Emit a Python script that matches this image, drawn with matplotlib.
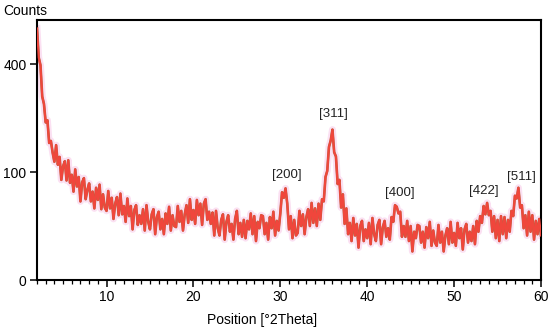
import numpy as np
import matplotlib
matplotlib.use("Agg")
import matplotlib.pyplot as plt
from matplotlib.ticker import MultipleLocator, FixedLocator

plt.rcParams['font.family'] = ['Liberation Sans', 'DejaVu Sans']
plt.rcParams['font.size'] = 10

# 2theta grid (deg) and counts
two_theta = np.round(np.arange(2.0, 60.01, 0.2), 1)
counts = [
    543, 424, 396, 289, 266, 213, 219, 161, 166, 139,
    120, 156, 114, 130, 86, 111, 121, 85, 123, 81,
    95, 67, 105, 75, 91, 53, 82, 89, 56, 70,
    80, 53, 67, 44, 73, 55, 78, 43, 63, 45,
    41, 68, 44, 58, 32, 50, 59, 36, 64, 37,
    47, 29, 57, 35, 47, 22, 42, 48, 26, 36,
    27, 43, 21, 48, 29, 22, 37, 43, 18, 34,
    40, 22, 32, 18, 38, 27, 46, 21, 36, 25,
    24, 47, 29, 41, 21, 37, 48, 28, 56, 31,
    42, 27, 55, 36, 50, 26, 50, 56, 31, 40,
    27, 39, 17, 41, 23, 17, 31, 37, 14, 29,
    36, 20, 27, 14, 32, 41, 18, 28, 16, 31,
    15, 30, 22, 38, 18, 35, 13, 29, 23, 36,
    35, 18, 28, 14, 34, 23, 40, 17, 30, 21,
    38, 66, 58, 72, 50, 22, 35, 15, 31, 17,
    19, 41, 25, 37, 18, 34, 43, 25, 51, 28,
    44, 25, 50, 31, 56, 53, 91, 102, 152, 167,
    194, 140, 131, 79, 86, 45, 63, 27, 44, 18,
    28, 13, 33, 17, 27, 9, 25, 30, 13, 22,
    15, 28, 11, 33, 18, 13, 26, 31, 11, 24,
    30, 16, 23, 14, 34, 29, 48, 46, 38, 40,
    16, 25, 16, 30, 13, 25, 7, 20, 15, 26,
    25, 12, 20, 9, 24, 15, 29, 10, 21, 12,
    10, 26, 12, 20, 7, 17, 23, 11, 29, 12,
    19, 10, 28, 15, 23, 8, 22, 27, 12, 20,
    13, 25, 11, 30, 20, 35, 28, 47, 37, 51,
    36, 41, 20, 35, 15, 31, 13, 35, 18, 34,
    15, 31, 20, 41, 35, 61, 57, 73, 45, 48,
    23, 36, 17, 40, 20, 36, 14, 30, 18, 32,
    17,
]

# peak labels (hkl) and where they sit
peak_labels = ['[200]', '[311]', '[400]', '[422]', '[511]']
peak_x = [30.8, 36.1, 43.7, 53.4, 57.7]
peak_y = [94, 236, 65, 68, 91]

y_ticks = [0, 100, 400]

fig = plt.figure(figsize=(5.5, 3.34), dpi=100)
ax = fig.add_axes([37 / 550, 1 - 280 / 334, 504 / 550, 260 / 334])

ax.set_yscale('function', functions=(lambda v: np.sqrt(np.clip(v, 0, None)), np.square))

ax.plot(two_theta, counts, color='#fbe0f2', lw=5, solid_joinstyle='round', zorder=1)
ax.plot(two_theta, counts, color='#b8643f', lw=1.9, zorder=2)
ax.plot(two_theta, counts, color='#f0463c', lw=1.5, zorder=3)

for lab, px, py in zip(peak_labels, peak_x, peak_y):
    ax.text(px, py, lab, ha='center', va='center', fontsize=9.5, color='#222222')

ax.set_xlim(2, 60)
ax.set_ylim(0, 580)
ax.xaxis.set_major_locator(MultipleLocator(10))
ax.xaxis.set_minor_locator(MultipleLocator(1))
ax.yaxis.set_major_locator(FixedLocator(y_ticks))
ax.yaxis.set_minor_locator(FixedLocator([]))

for s in ax.spines.values():
    s.set_linewidth(1.5)
ax.tick_params(axis='both', which='major', direction='out', length=5, width=1.1, pad=2.5)
ax.tick_params(axis='x', which='minor', direction='out', length=3, width=0.9)
ax.tick_params(top=False, right=False)

fig.text(3 / 550, 1 - 11 / 334, 'Counts', ha='left', va='center')
fig.text(262 / 550, 1 - 320 / 334, 'Position [°2Theta]', ha='center', va='center')

fig.savefig('out.png', dpi=100)
